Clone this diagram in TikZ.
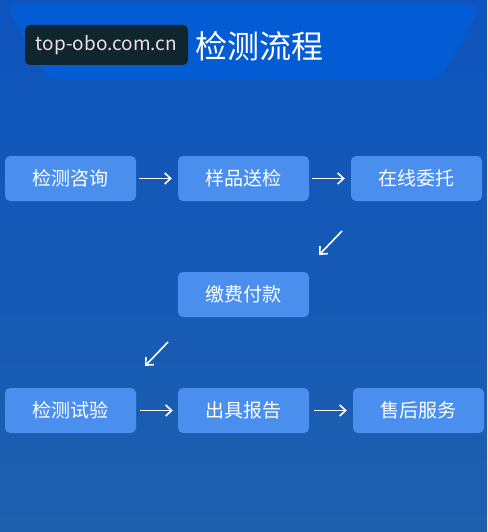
\documentclass[tikz,border=0pt]{standalone}
\usepackage{fontspec}
\setmainfont{Noto Sans CJK SC}
\usetikzlibrary{arrows.meta}
\definecolor{bgtop}{RGB}{14,84,190}
\definecolor{bgbottom}{RGB}{30,95,174}
\definecolor{bandblue}{RGB}{4,92,212}
\definecolor{boxblue}{RGB}{74,143,238}
\definecolor{tagdark}{RGB}{16,38,46}
\definecolor{tagtext}{RGB}{240,222,226}
\begin{document}
\begin{tikzpicture}[x=1pt,y=-1pt,%
% common options for the step boxes:
stepbox/.style = {fill=boxblue, rounded corners=5pt, align=center,
            minimum width=131pt, minimum height=45pt, inner sep=0,
            text=white, font=\fontsize{19}{19}\selectfont},
% common options for the arrows:
flow/.style = {draw=white, line width=1.6pt, -{Straight Barb[length=6pt,width=11pt]}}]
% background and header band
\shade[top color=bgtop, bottom color=bgbottom] (0,0) rectangle (487,532);
\fill[bandblue, rounded corners=14pt] (5,4) -- (482,4) -- (440,80) -- (48,80) -- cycle;
\useasboundingbox (0,0) rectangle (487,532);
\node[fill=tagdark, rounded corners=5pt, minimum width=163pt, minimum height=40pt,
      inner sep=0, text=tagtext, font=\fontsize{19}{19}\selectfont] (tag) at (106.5,45) {top-obo.com.cn};
\node[anchor=west, inner sep=0, text=white, font=\fontsize{32}{32}\selectfont] (title) at (195,46) {检测流程};
% first row
\node[stepbox] (A1) at (70.5,178.5) {检测咨询};
\node[stepbox] (A2) at (243.5,178.5) {样品送检};
\node[stepbox] (A3) at (416.5,178.5) {在线委托};
% middle
\node[stepbox] (B1) at (243.5,294.5) {缴费付款};
% last row
\node[stepbox] (C1) at (70.5,410.5) {检测试验};
\node[stepbox] (C2) at (243.5,410.5) {出具报告};
\node[stepbox] (C3) at (418.5,410.5) {售后服务};
\coordinate (d1s) at (342,231);
\coordinate (d1e) at (319,255);
\coordinate (d2s) at (168,342);
\coordinate (d2e) at (145,366);
\draw[flow, shorten <=3pt, shorten >=6pt] (A1.east) -- (A2.west);
\draw[flow, shorten <=3pt, shorten >=6pt] (A2.east) -- (A3.west);
\draw[flow] (d1s) -- (d1e);
\draw[flow] (d2s) -- (d2e);
\draw[flow, shorten <=4pt, shorten >=5pt] (C1.east) -- (C2.west);
\draw[flow, shorten <=5pt, shorten >=6pt] (C2.east) -- (C3.west);
\end{tikzpicture}
\end{document}
